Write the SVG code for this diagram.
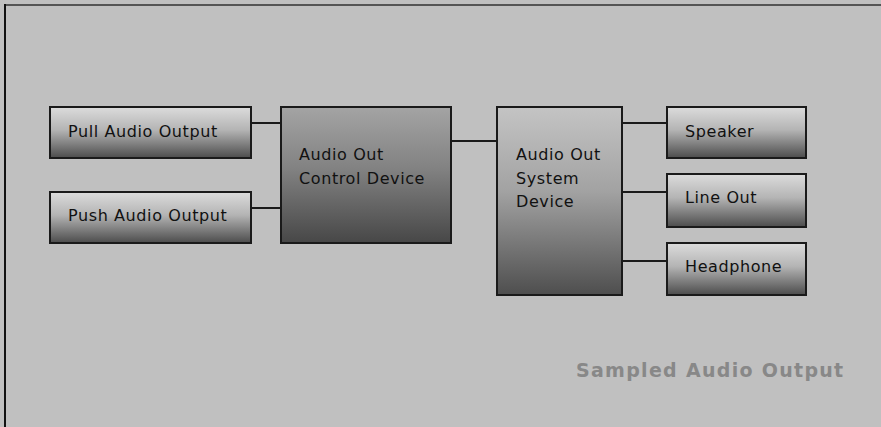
<svg xmlns="http://www.w3.org/2000/svg" width="881" height="427" viewBox="0 0 881 427">
<style>
.box{stroke:#1a1a1a;stroke-width:2}
.lbl{font-family:"DejaVu Sans","Liberation Sans",sans-serif;font-size:16px;letter-spacing:0.6px;fill:#111}
.con{stroke:#1a1a1a;stroke-width:2;fill:none}
</style>
<defs>
<linearGradient id="gs" x1="0" y1="0" x2="0" y2="1">
<stop offset="0" stop-color="#dcdcdc"/><stop offset="0.45" stop-color="#b4b4b4"/><stop offset="1" stop-color="#4c4c4c"/>
</linearGradient>
<linearGradient id="gc" x1="0" y1="0" x2="0" y2="1">
<stop offset="0" stop-color="#a4a4a4"/><stop offset="0.45" stop-color="#828282"/><stop offset="1" stop-color="#474747"/>
</linearGradient>
<linearGradient id="gd" x1="0" y1="0" x2="0" y2="1">
<stop offset="0" stop-color="#c4c4c4"/><stop offset="0.45" stop-color="#a2a2a2"/><stop offset="1" stop-color="#4e4e4e"/>
</linearGradient>
</defs>
<rect x="0" y="0" width="881" height="427" fill="#c0c0c0"/>
<line x1="4" y1="5" x2="881" y2="5" stroke="#555" stroke-width="2"/>
<line x1="5" y1="4" x2="5" y2="427" stroke="#111" stroke-width="2"/>
<g id="connectors">
<line class="con" x1="251" y1="123" x2="281" y2="123"/>
<line class="con" x1="251" y1="208" x2="281" y2="208"/>
<line class="con" x1="451" y1="141" x2="497" y2="141"/>
<line class="con" x1="622" y1="123" x2="667" y2="123"/>
<line class="con" x1="622" y1="192" x2="667" y2="192"/>
<line class="con" x1="622" y1="261" x2="667" y2="261"/>
</g>
<g id="pull"><rect class="box" x="50" y="107" width="201" height="51" fill="url(#gs)"/><text class="lbl" x="68" y="137">Pull Audio Output</text></g>
<g id="push"><rect class="box" x="50" y="192" width="201" height="51" fill="url(#gs)"/><text class="lbl" x="68" y="221">Push Audio Output</text></g>
<g id="control"><rect class="box" x="281" y="107" width="170" height="136" fill="url(#gc)"/><text class="lbl" x="299" y="160">Audio Out</text><text class="lbl" x="299" y="184">Control Device</text></g>
<g id="system"><rect class="box" x="497" y="107" width="125" height="188" fill="url(#gd)"/><text class="lbl" x="516" y="160">Audio Out</text><text class="lbl" x="516" y="184">System</text><text class="lbl" x="516" y="207">Device</text></g>
<g id="speaker"><rect class="box" x="667" y="107" width="139" height="51" fill="url(#gs)"/><text class="lbl" x="685" y="137">Speaker</text></g>
<g id="lineout"><rect class="box" x="667" y="174" width="139" height="53" fill="url(#gs)"/><text class="lbl" x="685" y="203">Line Out</text></g>
<g id="headphone"><rect class="box" x="667" y="243" width="139" height="52" fill="url(#gs)"/><text class="lbl" x="685" y="272">Headphone</text></g>
<text x="576" y="377" font-family="DejaVu Sans,sans-serif" font-size="19" font-weight="bold" letter-spacing="1.3" fill="#888">Sampled Audio Output</text>
</svg>
